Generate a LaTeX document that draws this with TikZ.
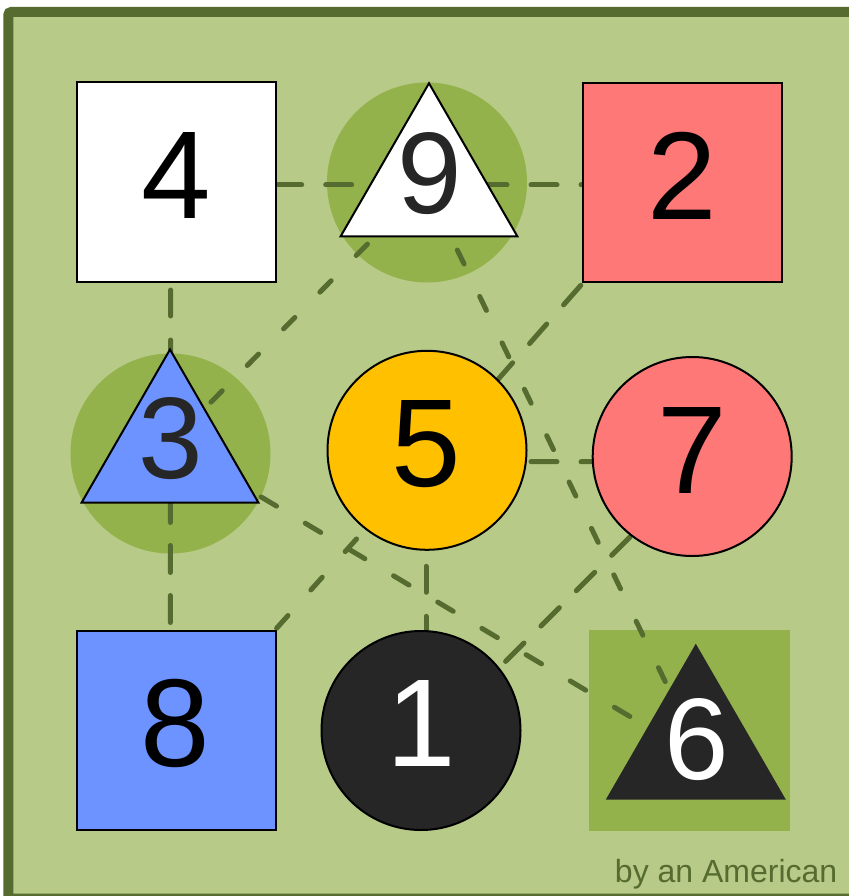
\documentclass[tikz,border=0pt]{standalone}
\usepackage{fontspec}
\setmainfont{Liberation Sans}
\usetikzlibrary{shapes.geometric,calc}
\definecolor{bgg}{HTML}{B7CA87}
\definecolor{frameg}{HTML}{556B2F}
\definecolor{decog}{HTML}{93B24B}
\definecolor{redf}{HTML}{FF7878}
\definecolor{bluef}{HTML}{6C93FF}
\definecolor{yellowf}{HTML}{FFC000}
\definecolor{darkf}{HTML}{262626}
\pgfdeclarelayer{decor}
\pgfdeclarelayer{edges}
\pgfsetlayers{decor,edges,main}
\tikzset{
  sqbox/.style={rectangle, draw=black, line width=2pt, minimum size=199pt, inner sep=0pt, outer sep=0pt},
  circbox/.style={circle, draw=black, line width=2pt, minimum size=199pt, inner sep=0pt, outer sep=0pt},
  tribox/.style={regular polygon, regular polygon sides=3, minimum size=204pt, inner sep=0pt, outer sep=0pt, draw=black, line width=2pt},
  numlab/.style={inner sep=0pt, outer sep=0pt, font=\fontsize{125}{125}\selectfont},
  trilab/.style={inner sep=0pt, outer sep=0pt, font=\fontsize{116}{116}\selectfont},
  decocirc/.style={circle, fill=decog, minimum size=200pt, inner sep=0pt},
  decosq/.style={rectangle, fill=decog, minimum size=201pt, inner sep=0pt},
  link/.style={draw=frameg, line width=5pt, line cap=round},
  longdash/.style={link, dash pattern=on 26pt off 24pt, dash phase=45pt},
}
\begin{document}
\begin{tikzpicture}[x=1pt, y=-1pt]
\useasboundingbox (0,0) rectangle (848,896);
\begin{pgfonlayer}{decor}
  \fill[white] (0,0) rectangle (848,896);
  \draw[frameg, line width=10pt, fill=bgg, rounded corners=3pt] (8.3,12) rectangle (858,898.5);
  \node[decocirc] (g9) at (427,182.5) {};
  \node[decocirc] (g3) at (170.5,453.5) {};
  \node[decosq] (g6) at (689.5,730.3) {};
\end{pgfonlayer}

% shapes
\node[sqbox, fill=white] (n4) at (176.5,182) {};
\node[tribox, fill=white] (n9) at (429,185.3) {};
\node[sqbox, fill=redf] (n2) at (682.8,182.2) {};
\node[tribox, fill=bluef] (n3) at (170,451.5) {};
\node[circbox, fill=yellowf] (n5) at (427,450.3) {};
\node[circbox, fill=redf] (n7) at (692.2,456.5) {};
\node[sqbox, fill=bluef] (n8) at (176.3,730.3) {};
\node[circbox, fill=darkf] (n1) at (421,730.5) {};
\node[tribox, fill=darkf, draw=darkf] (n6) at (695.8,747.7) {};

% labels
\node[numlab] (t4) at (176,175) {4};
\node[trilab, text=darkf] (t9) at (429.5,173.5) {9};
\node[numlab] (t2) at (682.5,175.5) {2};
\node[trilab, text=darkf] (t3) at (170.3,438.5) {3};
\node[numlab] (t5) at (426.7,444.3) {5};
\node[numlab] (t7) at (692.3,450.3) {7};
\node[numlab] (t8) at (175.7,723.5) {8};
\node[numlab, text=white] (t1) at (421.5,723) {1};
\node[trilab, text=white] (t6) at (696.5,740) {6};

\node[anchor=base east, inner sep=0pt, text=frameg, font=\fontsize{32}{32}\selectfont] (credit) at (837.5,882) {by an American};

% connector ports
\coordinate (p4) at ($(n4.center)+(-5.8,3)$);
\coordinate (p9) at ($(n9.center)+(-3,-0.3)$);
\coordinate (p2) at ($(n2.center)+(-13.8,2.8)$);
\coordinate (p3) at ($(n3.center)+(0.5,-8.5)$);
\coordinate (p5) at ($(n5.center)+(-1,11)$);
\coordinate (p7) at ($(n7.center)+(12.8,5.5)$);
\coordinate (p8) at ($(n8.center)+(-6,16.7)$);
\coordinate (p1) at ($(n1.center)+(5,10.5)$);
\coordinate (p6) at ($(n6.center)+(7.2,12.3)$);

\begin{pgfonlayer}{edges}
  \draw[longdash] (p4) -- (p9);
  \draw[longdash] (p9) -- (p2);
  \draw[longdash] (p4) -- (p3);
  \draw[link, dash pattern=on 27pt off 23pt, dash phase=47.5pt] (p3) -- (p8);
  \draw[longdash] (p5) -- (p7);
  \draw[longdash] (p5) -- (p1);
  \draw[longdash, dash phase=44pt] (p7) -- (p1);
  \draw[link, dash pattern=on 16pt off 35.6pt, dash phase=20pt] (p9) -- (p3);
  \draw[link, dash pattern=on 15.5pt off 36pt, dash phase=30.8pt] (p9) -- (p6);
  \draw[link, dash pattern=on 18pt off 33.4pt, dash phase=48.8pt] (p3) -- (p6);
  \draw[link, dash pattern=on 17pt off 34.4pt, dash phase=50pt] (p5) -- (p8);
  \draw[link, dash pattern=on 26pt off 25.6pt, dash phase=21.2pt] (p2) -- (p5);
\end{pgfonlayer}
\end{tikzpicture}
\end{document}
